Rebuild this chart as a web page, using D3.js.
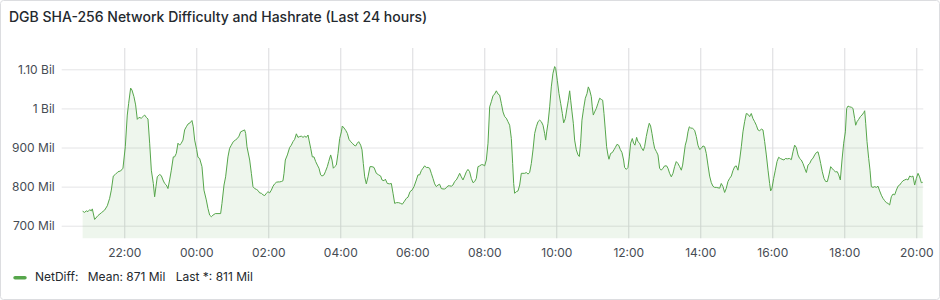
<!DOCTYPE html>
<html>
<head>
<meta charset="utf-8">
<script src="https://cdn.jsdelivr.net/npm/d3@7"></script>
<style>
  html, body { margin: 0; padding: 0; background: #ffffff; }
  svg { display: block; font-family: Inter, "Open Sans", sans-serif; }
</style>
</head>
<body>
<svg id="chart" width="940" height="300"></svg>
<script>
// ---- Data (minutes after 20:00 on day 1, NetDiff in millions) ----
const chartTitle = "DGB SHA-256 Network Difficulty and Hashrate (Last 24 hours)";
const seriesName = "NetDiff";
const legendStats = ["Mean: 871 Mil", "Last *: 811 Mil"];

const sampleMinutes = [
  50.6,53.9,56.7,59.5,62.3,65.0,66.7,70.6,76.2,81.7,87.3,91.7,95.6,98.4,101.7,105.0,109.5,113.9,117.8,121.7,
  125.0,127.3,130.6,132.8,136.1,138.9,141.7,144.5,148.4,151.7,154.0,156.7,159.5,162.3,165.1,168.4,170.6,172.8,175.0,178.9,
  181.7,184.5,187.3,190.1,192.8,195.6,198.4,201.7,203.9,206.7,209.5,212.3,215.0,217.8,220.6,223.4,226.2,229.5,232.8,235.0,
  237.3,240.6,242.8,245.6,249.5,252.8,256.7,259.5,262.3,265.1,267.8,271.7,276.2,280.6,282.8,286.2,288.9,292.8,295.6,298.4,
  301.7,305.1,308.4,311.2,313.9,317.8,320.6,322.3,324.5,
  329.0,331.8,334.5,337.3,340.1,342.9,345.6,348.4,351.2,354.0,356.8,359.5,362.3,365.1,367.9,370.6,373.4,376.2,379.0,381.8,
  384.5,386.2,388.4,391.8,395.6,398.4,401.2,404.0,406.8,409.5,412.3,415.1,417.9,420.7,423.4,426.2,427.9,430.7,433.4,436.2,
  439.0,441.8,444.5,447.3,449.5,452.9,455.1,458.4,460.7,464.0,466.2,468.4,470.7,473.4,476.2,479.0,481.8,483.4,486.2,489.0,
  491.8,494.5,497.3,500.1,502.9,505.7,508.4,510.7,514.0,516.2,518.4,520.7,523.4,526.2,529.5,532.9,536.2,540.1,544.0,547.3,
  549.5,552.9,555.1,558.4,562.3,565.1,567.9,570.7,573.4,577.3,580.7,583.4,586.2,590.1,592.9,596.2,599.5,602.9,606.8,609.5,
  612.3,615.1,617.8,620.6,623.4,626.2,628.9,631.7,634.5,637.3,640.1,642.8,645.6,648.4,651.2,654.0,656.7,659.5,662.3,665.1,
  667.8,670.6,673.4,676.2,679.0,681.7,684.5,687.3,690.1,692.8,695.6,698.4,701.2,704.0,706.7,709.5,712.3,715.1,717.8,720.6,
  723.4,726.2,729.0,731.7,734.5,737.3,740.1,742.8,745.6,748.4,751.2,754.0,756.7,759.5,762.3,765.1,767.3,769.0,770.6,773.4,
  776.2,779.0,781.7,784.5,787.3,790.1,792.9,795.6,798.4,801.2,804.0,806.7,809.5,812.3,815.1,817.9,820.6,822.3,824.0,826.2,
  829.0,831.7,834.5,837.3,839.0,841.7,844.5,847.3,850.1,852.3,855.1,857.3,860.1,862.3,864.0,866.2,868.4,870.6,873.4,876.2,
  878.4,880.6,882.8,885.6,888.4,891.2,893.4,
  895.6,898.4,900.0,901.7,903.9,906.7,909.5,912.3,915.0,917.3,919.5,921.7,923.9,926.1,927.8,930.6,933.4,936.1,938.4,941.1,
  943.9,946.7,949.5,952.2,953.9,956.7,959.5,961.7,963.9,966.7,968.9,971.1,973.9,976.1,978.9,981.7,985.0,987.2,990.0,992.8,
  995.0,997.2,999.5,1001.7,1003.9,1006.7,1009.5,1012.2,1015.0,1017.8,1020.6,1023.9,1026.1,1028.9,1031.7,1034.5,1037.2,1040.0,1042.8,1045.6,
  1048.4,1050.6,1052.8,1055.0,1057.3,1059.5,1061.7,1063.9,1067.3,1070.6,1073.4,1076.1,1078.9,1081.7,1084.5,1087.3,1090.0,1092.8,1095.6,1098.4,
  1101.1,1103.9,1106.7,1109.5,1112.3,1115.0,1117.8,1120.6,1123.4,1126.1,1128.9,1131.7,1134.5,1137.3,1140.0,1142.8,1145.6,1148.4,1151.1,1153.9,
  1156.7,1159.5,1162.3,1165.0,1167.8,1170.6,1173.4,1176.1,
  1179.0,1181.8,1184.5,1187.3,1190.1,1192.9,1195.6,1197.3,1199.5,1202.3,1205.1,1207.9,1210.6,1213.4,1216.2,1219.5,1221.8,1225.1,1228.4,1231.8,
  1234.5,1237.3,1240.1,1242.9,1245.6,1248.4,1251.2,1254.0,1256.8,1259.5,1262.3,1265.1,1267.9,1270.7,1273.4,1276.2,1278.4,1280.7,1283.4,1286.2,
  1289.0,1291.8,1294.5,1297.3,1299.5,1302.3,1305.1,1308.4,1310.7,1313.4,1316.2,1319.0,1321.8,1324.0,1326.2,1329.0,1331.8,1334.5,1337.3,1339.0,
  1341.2,1344.0,1346.8,1349.5,1352.3,1354.0,1355.7,1357.9,1360.7,1362.9,1365.1,1367.9,1370.7,1373.4,1376.2,1379.0,1381.8,1384.5,1387.3,1390.1,
  1392.9,1395.6,1398.4,1401.2,1404.0,1406.8,1409.5,1412.3,1415.1,1417.9,1420.7,1423.4,1426.2,1429.0,1431.8,1434.5,1437.3,1440.1,1442.9,1445.6,
  1448.4,1450.7
];

const netDiffMil = [
  737,734,738,736,741,738,743,716,726,733,740,751,770,791,827,831,838,840,847,902,
  983,1013,1052,1047,1030,1009,972,977,975,980,983,977,973,911,842,808,774,800,825,831,
  828,817,808,804,795,817,842,876,876,885,911,906,911,919,945,953,960,963,969,953,
  919,895,875,872,851,791,766,744,727,723,727,731,731,731,757,804,825,876,898,906,
  915,919,923,929,940,943,945,936,902,
  868,834,800,795,793,790,784,783,779,777,783,787,784,791,801,807,811,812,812,813,
  815,834,868,881,900,906,915,921,935,926,928,929,926,929,926,932,919,898,876,876,
  864,855,847,830,827,830,838,851,864,881,868,847,851,855,885,923,940,955,950,944,
  936,921,915,911,906,904,911,915,906,894,859,825,807,825,851,851,849,834,830,827,
  817,815,819,808,807,808,783,757,759,759,757,755,761,770,773,787,791,800,817,830,
  830,841,847,853,849,849,847,834,821,807,800,804,806,795,794,794,797,802,802,801,
  804,813,817,825,834,825,817,827,838,844,838,821,810,813,821,851,853,856,856,853,
  868,911,1004,1017,1032,1037,1045,1037,1034,1013,991,979,975,966,957,923,859,808,783,787,
  789,804,834,834,834,836,832,836,859,894,936,953,966,970,966,957,936,919,940,962,
  1004,1055,1090,1107,1102,1072,1038,1013,987,963,974,996,1021,1045,1021,991,962,919,894,881,
  877,911,970,1000,1026,1038,1055,
  1047,1030,1004,983,991,1000,1013,1026,1023,1021,987,945,902,881,870,885,887,894,900,908,
  906,895,887,868,849,844,849,876,911,923,911,906,926,915,911,900,892,902,928,949,
  962,955,936,915,898,890,881,847,842,847,853,853,847,834,825,834,851,864,859,851,
  842,855,881,906,919,940,953,950,949,944,928,906,895,898,904,902,885,855,827,810,
  801,798,798,797,796,808,800,785,796,813,821,827,841,851,853,842,868,902,940,966,
  987,985,979,987,974,966,957,945,
  943,947,945,915,881,842,808,789,796,821,842,864,875,872,870,868,872,871,872,869,
  889,906,900,881,872,868,859,847,836,855,859,868,873,881,887,889,876,859,838,821,
  813,813,830,851,847,842,838,838,830,817,868,911,940,1000,1006,1004,1003,1000,974,957,
  966,972,979,983,989,994,962,915,872,842,800,798,800,798,801,789,778,770,764,759,
  757,753,774,781,779,791,801,804,810,815,817,819,817,827,825,827,804,821,834,825,
  810,811
];

const yTickValues = [700, 800, 900, 1000, 1100];
const yTickLabels = ["700 Mil", "800 Mil", "900 Mil", "1 Bil", "1.10 Bil"];
const windowMinutes = [15.7, 1451.7];   // visible 24h window, minutes after 20:00

// ---- Layout ----
const W = 940, H = 300;
const plot = { left: 61.7, right: 923.3, top: 48, bottom: 238.3 };
const lineColor = "#56A64B";
const textColor = "#24292e";
const axisTextColor = "#464c54";

const base = new Date(2024, 0, 1, 20, 0, 0);
const toDate = m => new Date(base.getTime() + m * 60000);

const data = sampleMinutes.map((m, i) => ({ t: toDate(m), v: netDiffMil[i] }));

const x = d3.scaleTime()
  .domain(windowMinutes.map(toDate))
  .range([plot.left, plot.right]);

const y = d3.scaleLinear()
  .domain([667.8, 1154.5])
  .range([plot.bottom, plot.top]);

const svg = d3.select("#chart");

// Panel
svg.append("rect")
  .attr("x", 0.5).attr("y", 0.5)
  .attr("width", W - 1).attr("height", H - 1)
  .attr("rx", 3)
  .attr("fill", "#ffffff")
  .attr("stroke", "#dcdde0");

// Title
svg.append("text")
  .attr("x", 9).attr("y", 21.5)
  .attr("font-size", 14).attr("font-weight", 500)
  .attr("fill", textColor)
  .text(chartTitle);

// Horizontal grid + y labels
const yAxis = d3.axisLeft(y)
  .tickValues(yTickValues)
  .tickSize(-(plot.right - plot.left))
  .tickPadding(7)
  .tickFormat((d, i) => yTickLabels[i]);

const gy = svg.append("g")
  .attr("transform", `translate(${plot.left},0)`)
  .call(yAxis);
gy.select(".domain").remove();
gy.selectAll(".tick line").attr("stroke", "#e4e4e6").attr("stroke-width", 1);
gy.selectAll(".tick text")
  .attr("font-size", 12).attr("font-family", "Inter, sans-serif")
  .attr("fill", axisTextColor);

// Vertical grid + x labels
const xTicks = d3.timeHour.every(2);
const xAxis = d3.axisBottom(x)
  .ticks(xTicks)
  .tickSize(-(plot.bottom - plot.top))
  .tickPadding(10)
  .tickFormat(d3.timeFormat("%H:%M"));

const gx = svg.append("g")
  .attr("transform", `translate(0,${plot.bottom})`)
  .call(xAxis);
gx.select(".domain").remove();
gx.selectAll(".tick line").attr("stroke", "#dadadd").attr("stroke-width", 1);
gx.selectAll(".tick text")
  .attr("font-size", 12).attr("font-family", "Inter, sans-serif")
  .attr("fill", axisTextColor);

// Area + line
const area = d3.area()
  .x(d => x(d.t))
  .y0(plot.bottom)
  .y1(d => y(d.v));

const line = d3.line()
  .x(d => x(d.t))
  .y(d => y(d.v));

svg.append("path")
  .datum(data)
  .attr("d", area)
  .attr("fill", lineColor)
  .attr("fill-opacity", 0.1);

svg.append("path")
  .datum(data)
  .attr("d", line)
  .attr("fill", "none")
  .attr("stroke", lineColor)
  .attr("stroke-width", 1)
  .attr("stroke-linejoin", "round");

// Legend
const lg = svg.append("g");
lg.append("rect")
  .attr("x", 13.3).attr("y", 276)
  .attr("width", 13.4).attr("height", 3.5)
  .attr("rx", 1.75)
  .attr("fill", lineColor);
lg.append("text")
  .attr("x", 35).attr("y", 281.3)
  .attr("font-size", 12).attr("fill", textColor)
  .text(seriesName + ":");
const statX = [87.7, 175.7];
legendStats.forEach((s, i) => {
  lg.append("text")
    .attr("x", statX[i]).attr("y", 281.3)
    .attr("font-size", 12).attr("fill", textColor)
    .text(s);
});
</script>
</body>
</html>
